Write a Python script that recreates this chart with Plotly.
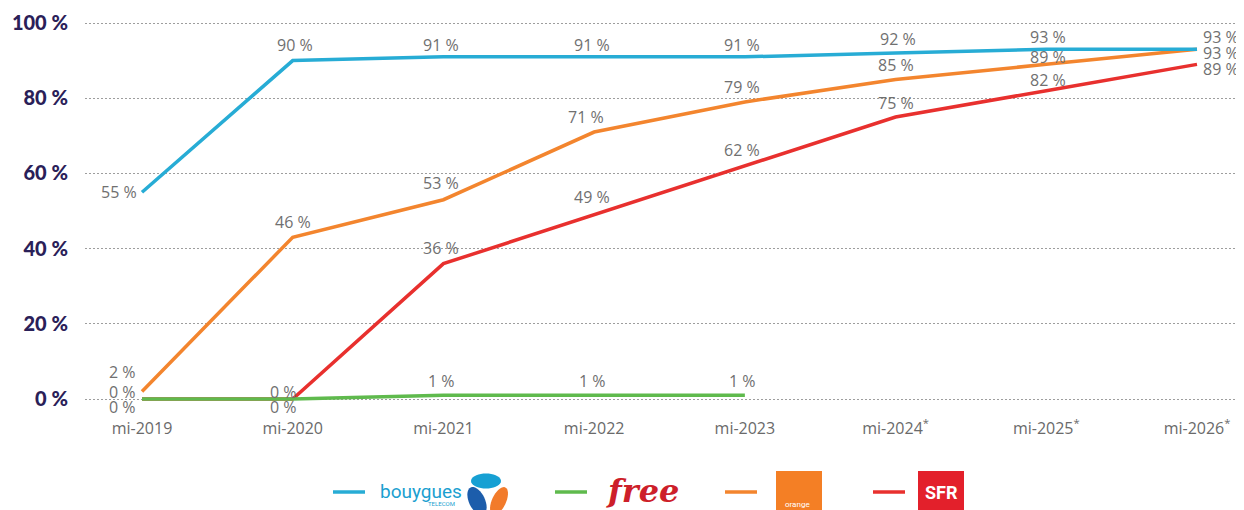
import math
import plotly.graph_objects as go

periods = ["mi-2019", "mi-2020", "mi-2021", "mi-2022", "mi-2023", "mi-2024*", "mi-2025*", "mi-2026*"]
tick_text = ["mi-2019", "mi-2020", "mi-2021", "mi-2022", "mi-2023", "mi-2024<sup>*</sup>", "mi-2025<sup>*</sup>", "mi-2026<sup>*</sup>"]

bouygues = [55, 90, 91, 91, 91, 92, 93, 93]
bouygues_labels = ["55 %", "90 %", "91 %", "91 %", "91 %", "92 %", "93 %", "93 %"]

free = [0, 0, 1, 1, 1, None, None, None]
free_labels = ["0 %", "0 %", "1 %", "1 %", "1 %", None, None, None]

orange = [2, 43, 53, 71, 79, 85, 89, 93]
orange_labels = ["2 %", "46 %", "53 %", "71 %", "79 %", "85 %", "89 %", "93 %"]

sfr = [0, 0, 36, 49, 62, 75, 82, 89]
sfr_labels = ["0 %", "0 %", "36 %", "49 %", "62 %", "75 %", "82 %", "89 %"]

y_ticks = [0, 20, 40, 60, 80, 100]
y_tick_text = ["0 %", "20 %", "40 %", "60 %", "80 %", "100 %"]

C_BLUE = "#27acd5"
C_GREEN = "#5fba4d"
C_ORANGE = "#f3852e"
C_RED = "#e8302e"
LABEL_COLOR = "#707070"
LABEL_FONT = "Open Sans"

# page is drawn with an 8px body margin
OFF = 8
W, H = 1244 - OFF, 510 - OFF
PL, PR, PT, PB = 85 - OFF, 0, 10, 96
PW = W - PL - PR
PH = H - PT - PB


def px(x):
    return (x - OFF - PL) / PW


def py(y):
    return (PT + PH - (y - OFF)) / PH


# label placement per point: (xanchor, xshift, yshift)
pos_bouygues = [("right", -4, 0), ("center", 2, 16), ("center", -2, 12), ("center", -2, 12),
                ("center", -3, 12), ("center", 2, 14), ("center", 2, 12), ("left", 5, 12)]
pos_orange = [("right", -5, 19), ("center", 0, 15), ("center", -2, 17), ("center", -8, 15),
              ("center", -3, 15), ("center", 0, 14), ("center", 2, 7), ("left", 5, -4)]
pos_free = [("right", -5, 7), ("right", 5, 7), ("center", -2, 14), ("center", -2, 14),
            ("center", -2, 14), None, None, None]
pos_sfr = [("right", -5, -8), ("right", 5, -8), ("center", -2, 16), ("center", -2, 18),
           ("center", -3, 16), ("center", 0, 14), ("center", 2, 11), ("left", 5, -5)]

fig = go.Figure()

series = [
    ("SFR", sfr, sfr_labels, C_RED, pos_sfr),
    ("Orange", orange, orange_labels, C_ORANGE, pos_orange),
    ("Bouygues Telecom", bouygues, bouygues_labels, C_BLUE, pos_bouygues),
    ("Free", free, free_labels, C_GREEN, pos_free),
]

annotations = []
for name, vals, labels, color, pos in series:
    fig.add_trace(go.Scatter(
        x=periods, y=vals, name=name, mode="lines",
        line=dict(color=color, width=3.5),
        showlegend=False, hoverinfo="skip",
    ))
    for xv, yv, lab, p in zip(periods, vals, labels, pos):
        if yv is None or lab is None:
            continue
        xa, dx, dy = p
        annotations.append(dict(
            x=xv, y=yv, xref="x", yref="y", text=lab, showarrow=False,
            xanchor=xa, yanchor="middle", xshift=dx, yshift=dy, borderpad=0,
            font=dict(family=LABEL_FONT, size=16, color=LABEL_COLOR),
        ))

# y range so that 0 -> 399px and 100 -> 23px on the page
unit = (399 - 23) / 100
y_top = 100 + ((23 - OFF) - PT) / unit
y_bot = -((PT + PH) - (399 - OFF)) / unit
x_step = (1197 - 142) / 7
x_left = -((142 - OFF) - PL) / x_step
x_right = (W - PR - (142 - OFF)) / x_step

fig.update_xaxes(
    type="category", range=[x_left, x_right],
    tickvals=periods, ticktext=tick_text,
    tickfont=dict(family=LABEL_FONT, size=16, color="#6a6a6a"),
    showgrid=False, zeroline=False, showline=False, ticks="",
    ticklabelstandoff=3,
)
fig.update_yaxes(
    range=[y_bot, y_top], tickvals=y_ticks, ticktext=y_tick_text,
    tickfont=dict(family="Lato", size=20, color="#2a2058", weight=900),
    showgrid=True, gridcolor="#9d9d9d", gridwidth=1, griddash="2px,2px",
    zeroline=False, showline=False, ticks="", ticklabelstandoff=16,
)

shapes = []

# legend line samples
for x0, c in [(333, C_BLUE), (555, C_GREEN), (725, C_ORANGE), (873, C_RED)]:
    shapes.append(dict(type="line", xref="paper", yref="paper",
                       x0=px(x0), x1=px(x0 + 32), y0=py(492), y1=py(492),
                       line=dict(color=c, width=3.5)))

# Bouygues logo
annotations.append(dict(xref="paper", yref="paper", x=px(378), y=py(491), xanchor="left", yanchor="middle",
                        text="bouygues", showarrow=False,
                        font=dict(family="Liberation Sans Narrow, Roboto", size=19, color="#1b9fd0")))
annotations.append(dict(xref="paper", yref="paper", x=px(456), y=py(503), xanchor="right", yanchor="middle",
                        text="TELECOM", showarrow=False, borderpad=0,
                        font=dict(family="Roboto", size=6, color="#1b9fd0")))


def ellipse_path(cx, cy, rx, ry, ang_deg, n=36):
    a = math.radians(ang_deg)
    pts = []
    for i in range(n):
        t = 2 * math.pi * i / n
        ex, ey = rx * math.cos(t), ry * math.sin(t)
        x = cx + ex * math.cos(a) - ey * math.sin(a)
        y = cy + ex * math.sin(a) + ey * math.cos(a)
        pts.append(f"{px(x):.5f},{py(y):.5f}")
    return "M " + " L ".join(pts) + " Z"


shapes.append(dict(type="path", xref="paper", yref="paper", path=ellipse_path(486, 481, 15, 7.5, 0),
                   fillcolor="#17a0d3", line=dict(width=0)))
shapes.append(dict(type="path", xref="paper", yref="paper", path=ellipse_path(477, 501, 8, 15, -25),
                   fillcolor="#1c5dab", line=dict(width=0)))
shapes.append(dict(type="path", xref="paper", yref="paper", path=ellipse_path(499, 501, 7, 15, 25),
                   fillcolor="#f27b2b", line=dict(width=0)))

# Free logo
annotations.append(dict(xref="paper", yref="paper", x=px(642), y=py(491), xanchor="center", yanchor="middle",
                        text="<b><i>free</i></b>", showarrow=False,
                        font=dict(family="DejaVu Serif", size=32, color="#cd1f2a")))

# Orange logo
shapes.append(dict(type="rect", xref="paper", yref="paper", x0=px(776), x1=px(822), y0=py(471), y1=py(516),
                   fillcolor="#f47f25", line=dict(width=0)))
annotations.append(dict(xref="paper", yref="paper", x=px(798), y=py(504), xanchor="center", yanchor="middle",
                        text="orange", showarrow=False,
                        font=dict(family="Roboto", size=8, color="white")))

# SFR logo
shapes.append(dict(type="rect", xref="paper", yref="paper", x0=px(918), x1=px(964), y0=py(471), y1=py(516),
                   fillcolor="#e3202b", line=dict(width=0)))
annotations.append(dict(xref="paper", yref="paper", x=px(941), y=py(492), xanchor="center", yanchor="middle",
                        text="<b>SFR</b>", showarrow=False,
                        font=dict(family="Roboto", size=18, color="white")))

fig.update_layout(
    width=W, height=H,
    margin=dict(l=PL, r=PR, t=PT, b=PB, autoexpand=False),
    paper_bgcolor="white", plot_bgcolor="white",
    shapes=shapes, annotations=annotations,
    showlegend=False,
)

fig.write_html("out.html")
